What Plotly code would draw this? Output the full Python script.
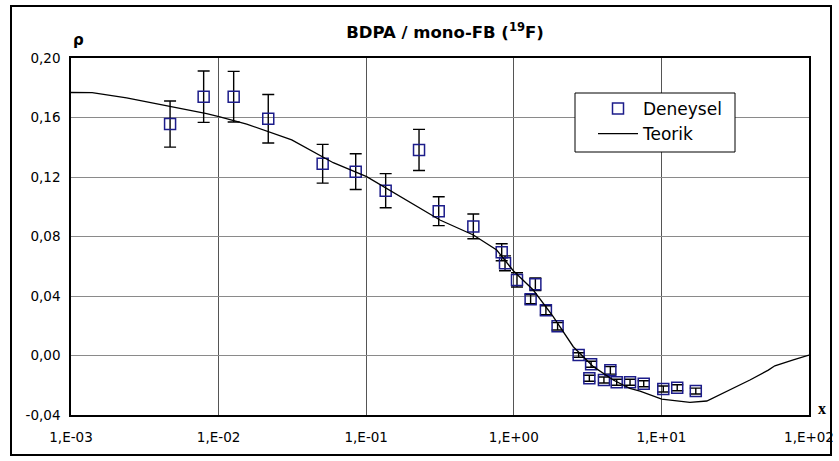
import plotly.graph_objects as go

# ---- data ----
x_exp = [0.00469, 0.00792, 0.01265, 0.0217, 0.0507, 0.0849, 0.1355, 0.228, 0.310, 0.532,
         0.828, 0.872, 1.051, 1.40, 1.30, 1.65, 1.98, 2.75, 3.34, 3.25,
         4.51, 4.08, 4.98, 6.13, 7.59, 10.3, 12.8, 17.1]
y_exp = [0.1556, 0.1740, 0.1740, 0.1592, 0.1289, 0.1236, 0.1108, 0.1382, 0.0970, 0.0868,
         0.0694, 0.0620, 0.0508, 0.0479, 0.0378, 0.0304, 0.0196, 0.0003, -0.0059, -0.0153,
         -0.0100, -0.0165, -0.0180, -0.0180, -0.0190, -0.0225, -0.0217, -0.0239]
err_exp = [0.0155, 0.0173, 0.0170, 0.0163, 0.0130, 0.0120, 0.0115, 0.0138, 0.0097, 0.0083,
           0.0057, 0.0050, 0.0048, 0.0042, 0.0030, 0.0030, 0.0025, 0.0015, 0.0020, 0.0020,
           0.0025, 0.0020, 0.0020, 0.0020, 0.0020, 0.0020, 0.0020, 0.0020]

x_theory = [0.001, 0.00139, 0.00238, 0.00447, 0.0083, 0.0102, 0.0155, 0.0313, 0.0598,
            0.1007, 0.1694, 0.316, 0.532, 0.766, 0.992, 1.355, 1.849, 2.529, 3.459,
            4.72, 6.12, 7.16, 10.05, 15.6, 20.3, 26.2, 39.8, 53.0, 58.7, 78.3, 100.0]
y_theory = [0.1768, 0.1767, 0.1732, 0.1680, 0.1626, 0.1605, 0.1556, 0.1449, 0.1296,
            0.1202, 0.1068, 0.0911, 0.0810, 0.0709, 0.0570, 0.0440, 0.0261, 0.0059, -0.0075,
            -0.0165, -0.0221, -0.0240, -0.0293, -0.0315, -0.0306, -0.0254, -0.0165, -0.0098,
            -0.0069, -0.0030, 0.0003]

x_tickvals = [0.001, 0.01, 0.1, 1, 10, 100]
x_ticktext = ["1,E-03", "1,E-02", "1,E-01", "1,E+00", "1,E+01", "1,E+02"]
y_tickvals = [-0.04, 0.0, 0.04, 0.08, 0.12, 0.16, 0.20]
y_ticktext = ["-0,04", "0,00", "0,04", "0,08", "0,12", "0,16", "0,20"]

# ---- figure ----
W, H = 839, 461
L, R, T, B = 71, 30, 58, 46
pw, ph = W - L - R, H - T - B

def px_x(p):
    return (p - L) / pw

def px_y(p):
    return (H - B - p) / ph

font = "DejaVu Sans, Verdana, sans-serif"

fig = go.Figure()
fig.add_trace(go.Scatter(
    x=x_exp, y=y_exp, mode="markers", name="Deneysel", legendgroup="a",
    marker=dict(symbol="square-open", size=11, color="#1c1c8a", line=dict(width=1.5, color="#1c1c8a")),
    error_y=dict(type="data", array=err_exp, color="black", thickness=1.4, width=6),
))
fig.add_trace(go.Scatter(
    x=x_theory, y=y_theory, mode="lines", name="Teorik", legendgroup="b",
    line=dict(color="black", width=1.3),
))

fig.update_layout(
    width=W, height=H,
    margin=dict(l=L, r=R, t=T, b=B, autoexpand=False),
    paper_bgcolor="white", plot_bgcolor="white",
    font=dict(family=font, size=13.5, color="black"),
    showlegend=True,
    legend=dict(x=px_x(593), y=px_y(91), xanchor="left", yanchor="top",
                bgcolor="rgba(0,0,0,0)", borderwidth=0, itemwidth=40,
                traceorder="grouped", tracegroupgap=0,
                font=dict(family=font, size=17)),
    title=dict(text="<b>BDPA / mono-FB (<sup>19</sup>F)</b>", xref="container", x=445 / W,
               xanchor="center", y=1 - 32 / H, yanchor="middle",
               font=dict(family=font, size=16.5)),
    xaxis=dict(type="log", range=[-3, 2], tickvals=x_tickvals, ticktext=x_ticktext,
               automargin=False,
               showgrid=True, gridcolor="#555555", gridwidth=1, zeroline=False,
               showline=True, linecolor="black", linewidth=1.6, mirror=True,
               ticks="", ticklabelstandoff=9, tickfont=dict(size=13.5)),
    yaxis=dict(range=[-0.04, 0.20], tickvals=y_tickvals, ticktext=y_ticktext,
               automargin=False,
               showgrid=True, gridcolor="#8a8a8a", gridwidth=1, zeroline=False,
               showline=True, linecolor="black", linewidth=1.6, mirror=True,
               ticks="", ticklabelstandoff=6, tickfont=dict(size=13.5)),
    shapes=[
        dict(type="rect", xref="paper", yref="paper",
             x0=px_x(11), x1=px_x(831), y0=px_y(455), y1=px_y(6),
             line=dict(color="black", width=2), layer="below"),
        dict(type="rect", xref="paper", yref="paper",
             x0=px_x(575), x1=px_x(735), y0=px_y(152), y1=px_y(93),
             line=dict(color="black", width=1), fillcolor="white", layer="above"),
    ],
    annotations=[
        dict(text="<b>ρ</b>", xref="paper", yref="paper", x=px_x(78), y=px_y(40),
             xanchor="center", yanchor="middle", showarrow=False,
             font=dict(family=font, size=15)),
        dict(text="<b>x</b>", xref="paper", yref="paper", x=px_x(822), y=px_y(408),
             xanchor="center", yanchor="middle", showarrow=False,
             font=dict(family="Liberation Serif, Times New Roman, serif", size=16)),
    ],
)

fig.write_html("out.html", config={"displayModeBar": False},
               post_script="document.body.style.margin='0';")
